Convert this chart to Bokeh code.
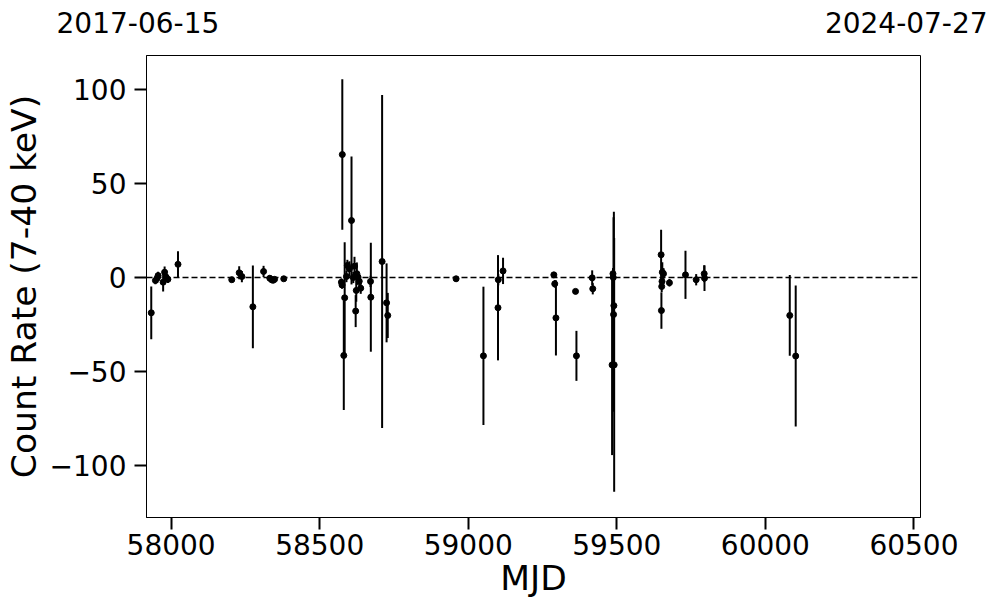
from bokeh.plotting import figure
from bokeh.models import Range1d, FixedTicker, LinearAxis, Span
from bokeh.embed import file_html
from bokeh.resources import INLINE

# Data: MJD, count rate, 1-sigma error
mjd = [57933, 57947, 57953, 57956, 57973, 57978, 57983, 57989, 58023,
       58204, 58229, 58238, 58275, 58311, 58332, 58338, 58343, 58348, 58379,
       58573, 58575, 58576, 58581, 58584, 58590, 58593, 58600, 58607, 58613,
       58617, 58621, 58623, 58625, 58629, 58633, 58638, 58671, 58672, 58710,
       58725, 58729,
       58959, 59051, 59100, 59101, 59117, 59288, 59291, 59295, 59361, 59364,
       59417, 59419,
       59484, 59487, 59488, 59490, 59489, 59491,
       59649, 59650, 59651, 59652, 59653, 59657, 59677, 59731, 59767, 59794,
       59795, 60082, 60102]
rate = [-18.8, -1.6, -0.4, 1.0, -2.5, 2.8, 0.2, -1.0, 7.0,
        -1.2, 2.5, 0.5, -15.6, 3.2, -0.4, -1.2, -1.5, -1.0, -0.7,
        -2.5, -4.0, 65.4, -41.5, -10.8, 0.5, 6.4, 4.6, 30.3, 0.0,
        6.0, -17.9, -6.9, 2.0, 0.2, -2.0, -5.7, -2.1, -10.5, 8.5,
        -13.5, -20.2,
        -0.7, -41.7, -16.1, -1.2, 3.5, 1.4, -3.4, -21.5, -7.4, -41.7,
        -0.2, -6.0,
        -46.5, 2.0, 0.0, -15.0, -19.7, -46.5,
        12.1, -17.6, -4.8, -2.1, 2.8, 2.0, -2.8, 1.4, -1.2, 2.0,
        -0.4, -20.2, -41.8]
err = [14.0, 2.0, 2.5, 2.0, 5.0, 3.0, 2.0, 2.0, 7.0,
       1.0, 3.5, 3.0, 22.0, 3.0, 1.5, 1.0, 1.0, 1.0, 1.0,
       2.0, 2.0, 40.0, 29.0, 29.6, 3.0, 3.0, 4.0, 34.0, 3.0,
       5.0, 8.5, 6.0, 6.0, 3.0, 3.0, 3.0, 3.0, 29.0, 88.6,
       21.0, 12.0,
       1.5, 36.8, 28.0, 3.0, 7.0, 1.5, 2.0, 20.0, 1.0, 13.3,
       4.0, 3.0,
       48.0, 3.0, 2.0, 50.0, 51.7, 67.5,
       13.3, 9.7, 3.0, 3.0, 5.3, 3.0, 2.0, 12.8, 3.0, 4.5,
       6.8, 21.5, 37.5]

x_ticks = [58000, 58500, 59000, 59500, 60000, 60500]
y_ticks = [-100, -50, 0, 50, 100]
x_min, x_max = 57917, 60522
y_min, y_max = -127.7, 118.1
date_labels = ["2017-06-15", "2024-07-27"]

# layout: where the two date labels sit along the top edge
date_label_pos = [57918, 60474]

FONT = "DejaVu Sans"
TICK_SIZE = "28px"

p = figure(width=997, height=613, output_backend="svg", toolbar_location=None,
           x_range=Range1d(x_min, x_max), y_range=Range1d(y_min, y_max),
           min_border_left=145, min_border_right=77, min_border_top=55,
           min_border_bottom=96)
p.xgrid.visible = False
p.ygrid.visible = False
p.outline_line_color = "black"
p.outline_line_width = 1
p.background_fill_color = "white"
p.border_fill_color = "white"

lo = [r - e for r, e in zip(rate, err)]
hi = [r + e for r, e in zip(rate, err)]

p.add_layout(Span(location=0, dimension="width", line_color="black",
                  line_dash="6 3", line_width=1.5))
p.segment(x0=mjd, y0=lo, x1=mjd, y1=hi, line_color="black", line_width=2)
p.scatter(x=mjd, y=rate, size=6, fill_color="black", line_color="black")

for ax in (p.xaxis[0], p.yaxis[0]):
    ax.major_tick_out = 12
    ax.major_tick_in = 0
    ax.minor_tick_out = 0
    ax.minor_tick_in = 0
    ax.major_tick_line_width = 2
    ax.major_tick_line_color = "black"
    ax.axis_line_color = "black"
    ax.axis_line_width = 1
    ax.major_label_text_font = FONT
    ax.major_label_text_font_size = TICK_SIZE
    ax.major_label_text_color = "black"
    ax.axis_label_text_font = FONT
    ax.axis_label_text_font_style = "normal"
    ax.axis_label_text_color = "black"

p.xaxis.ticker = FixedTicker(ticks=x_ticks)
p.yaxis.ticker = FixedTicker(ticks=y_ticks)
p.yaxis.major_label_overrides = {t: (str(t).replace("-", "\u2212")) for t in y_ticks}
p.xaxis.axis_label = "MJD"
p.yaxis.axis_label = "Count Rate (7-40 keV)"
p.xaxis.axis_label_text_font_size = "34.5px"
p.yaxis.axis_label_text_font_size = "34.5px"
p.xaxis.major_label_standoff = 4
p.yaxis.major_label_standoff = 8
p.xaxis.axis_label_standoff = 0
p.yaxis.axis_label_standoff = 3

# top axis carrying the start / end dates (trailing no-break spaces nudge
# the first label slightly left, as in the reference)
top = LinearAxis(ticker=FixedTicker(ticks=date_label_pos),
                 major_label_overrides={date_label_pos[0]: date_labels[0] + "\u00a0\u00a0",
                                        date_label_pos[1]: date_labels[1]},
                 axis_line_color=None, major_tick_line_color=None,
                 minor_tick_line_color=None, major_tick_out=0, major_tick_in=0,
                 minor_tick_out=0, minor_tick_in=0,
                 major_label_standoff=16,
                 major_label_text_font=FONT, major_label_text_font_size=TICK_SIZE,
                 major_label_text_color="black")
p.add_layout(top, "above")

open("out.html", "w").write(file_html(p, INLINE))
